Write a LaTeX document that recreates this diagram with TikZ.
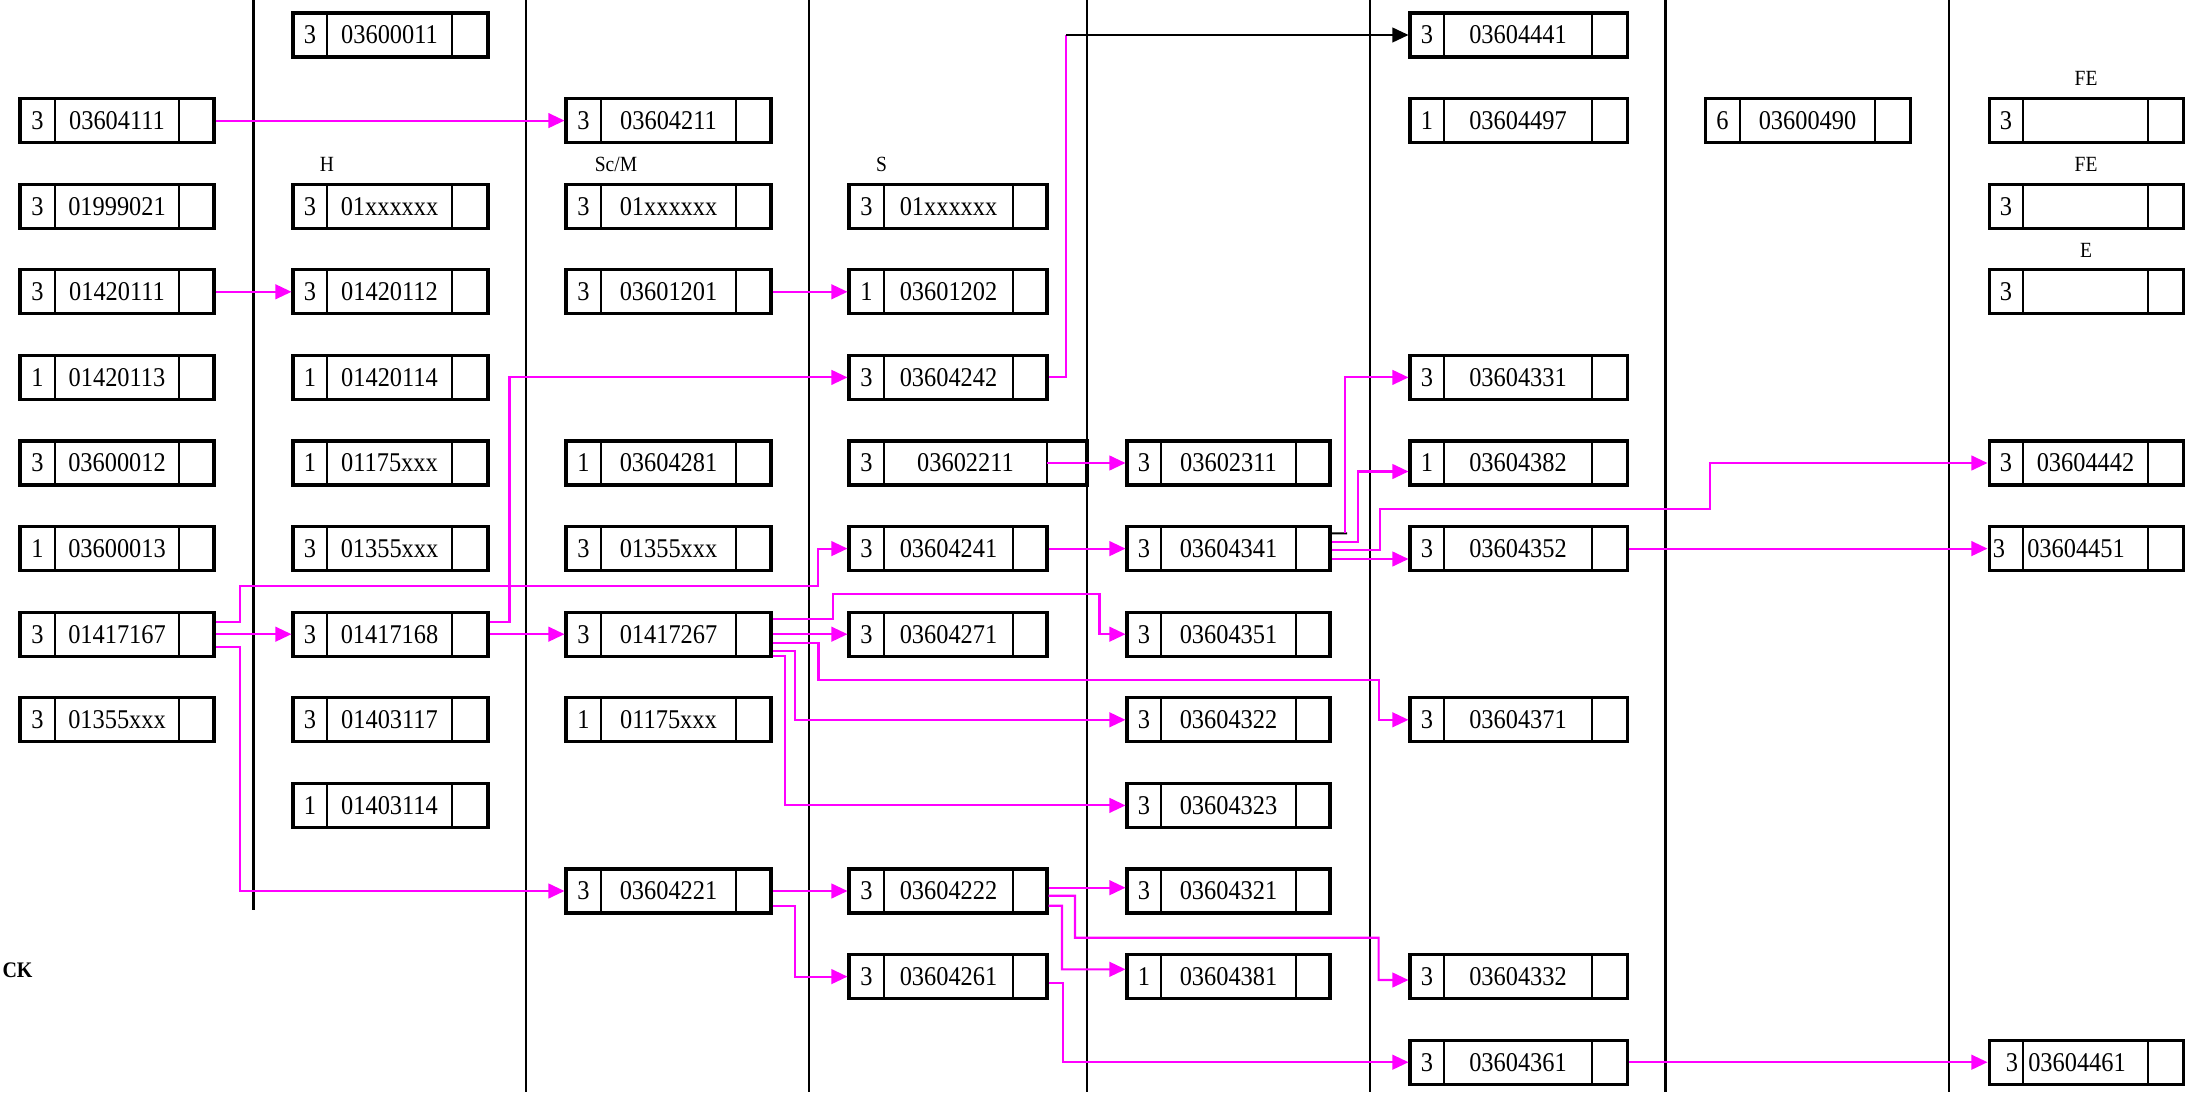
\documentclass[tikz,border=0pt]{standalone}
\usepackage{fontspec}
\setmainfont{Liberation Serif}[FakeStretch=0.9]
\usetikzlibrary{arrows.meta,calc}
\definecolor{pinkline}{RGB}{255,0,255}
\tikzset{
  boxframe/.style={draw, line width=1.1pt, inner sep=0pt, minimum height=15.84pt},
  divline/.style={line width=0.8pt},
  colline/.style={line width=0.8pt},
  numtext/.style={inner sep=0pt, font=\fontsize{9.75}{11}\selectfont},
  codetext/.style={inner sep=0pt, font=\fontsize{9.75}{11}\selectfont},
  labeltext/.style={inner sep=0pt, font=\fontsize{7.8}{9}\selectfont},
  cktext/.style={inner sep=0pt, anchor=west, font=\fontsize{8}{9}\selectfont\bfseries},
  pk/.style={draw=pinkline, line width=0.75pt, -{Triangle[length=5.8pt,width=5.3pt]}},
  pkplain/.style={draw=pinkline, line width=0.75pt},
  bk/.style={draw=black, line width=0.7pt, -{Triangle[length=5.8pt,width=5.3pt]}},
  bkplain/.style={draw=black, line width=0.7pt},
}
% name, xl, d1, d2, xr, y, num, code
\newcommand\bx[8]{%
  \node[boxframe, minimum width={(#5-#2)*0.36pt}] (#1) at ({(#2+#5)/2},#6) {};
  \draw[divline] (#3,#6-22) -- (#3,#6+22) (#4,#6-22) -- (#4,#6+22);
  \coordinate (#1d) at (#4,#6);
  \node[numtext] (#1n) at ({(#2+#3)/2},#6) {#7};
  \node[codetext] (#1c) at ({(#3+#4)/2},#6) {#8};
}
\begin{document}
\begin{tikzpicture}[x=0.36pt,y=-0.36pt]
\useasboundingbox (0,0) rectangle (2206,1092);
% column lines
\draw[colline] (253.6,0) -- (253.6,910);
\draw[colline] (526,0) -- (526,1092);
\draw[colline] (809,0) -- (809,1092);
\draw[colline] (1087,0) -- (1087,1092);
\draw[colline] (1369.7,0) -- (1369.7,1092);
\draw[colline] (1665.5,0) -- (1665.5,1092);
\draw[colline] (1949,0) -- (1949,1092);
% row 1
\bx{b1}{293}{327}{452}{488}{35}{3}{03600011}
\bx{f1}{1410}{1444}{1592}{1627}{35}{3}{03604441}
% row 2
\bx{a2}{20}{55}{179}{214}{120.6}{3}{03604111}
\bx{c2}{566}{601}{736}{771}{120.6}{3}{03604211}
\bx{f2}{1410}{1444}{1592}{1627}{120.6}{1}{03604497}
\bx{g2}{1705}{1740}{1875}{1910}{120.6}{6}{03600490}
\bx{h2}{1989}{2023}{2148}{2183}{120.6}{3}{}
% row 3
\bx{a3}{20}{55}{179}{214}{206.2}{3}{01999021}
\bx{b3}{293}{327}{452}{488}{206.2}{3}{01xxxxxx}
\bx{c3}{566}{601}{736}{771}{206.2}{3}{01xxxxxx}
\bx{d3}{849}{884}{1013}{1047}{206.2}{3}{01xxxxxx}
\bx{h3}{1989}{2023}{2148}{2183}{206.2}{3}{}
% row 4
\bx{a4}{20}{55}{179}{214}{291.8}{3}{01420111}
\bx{b4}{293}{327}{452}{488}{291.8}{3}{01420112}
\bx{c4}{566}{601}{736}{771}{291.8}{3}{03601201}
\bx{d4}{849}{884}{1013}{1047}{291.8}{1}{03601202}
\bx{h4}{1989}{2023}{2148}{2183}{291.8}{3}{}
% row 5
\bx{a5}{20}{55}{179}{214}{377.4}{1}{01420113}
\bx{b5}{293}{327}{452}{488}{377.4}{1}{01420114}
\bx{d5}{849}{884}{1013}{1047}{377.4}{3}{03604242}
\bx{f5}{1410}{1444}{1592}{1627}{377.4}{3}{03604331}
% row 6
\bx{a6}{20}{55}{179}{214}{463}{3}{03600012}
\bx{b6}{293}{327}{452}{488}{463}{1}{01175xxx}
\bx{c6}{566}{601}{736}{771}{463}{1}{03604281}
\bx{d6}{849}{884}{1047}{1087}{463}{3}{03602211}
\bx{e6}{1127}{1161}{1296}{1330}{463}{3}{03602311}
\bx{f6}{1410}{1444}{1592}{1627}{463}{1}{03604382}
\bx{h6}{1989}{2023}{2148}{2183}{463}{3}{03604442}
% row 7
\bx{a7}{20}{55}{179}{214}{548.6}{1}{03600013}
\bx{b7}{293}{327}{452}{488}{548.6}{3}{01355xxx}
\bx{c7}{566}{601}{736}{771}{548.6}{3}{01355xxx}
\bx{d7}{849}{884}{1013}{1047}{548.6}{3}{03604241}
\bx{e7}{1127}{1161}{1296}{1330}{548.6}{3}{03604341}
\bx{f7}{1410}{1444}{1592}{1627}{548.6}{3}{03604352}
\bx{h7}{1989}{2023}{2148}{2183}{548.6}{}{}
\node[numtext] (h7n2) at (1999,548.6) {3};
\node[codetext] (h7c2) at (2076,548.6) {03604451};
% row 8
\bx{a8}{20}{55}{179}{214}{634.2}{3}{01417167}
\bx{b8}{293}{327}{452}{488}{634.2}{3}{01417168}
\bx{c8}{566}{601}{736}{771}{634.2}{3}{01417267}
\bx{d8}{849}{884}{1013}{1047}{634.2}{3}{03604271}
\bx{e8}{1127}{1161}{1296}{1330}{634.2}{3}{03604351}
% row 9
\bx{a9}{20}{55}{179}{214}{719.8}{3}{01355xxx}
\bx{b9}{293}{327}{452}{488}{719.8}{3}{01403117}
\bx{c9}{566}{601}{736}{771}{719.8}{1}{01175xxx}
\bx{e9}{1127}{1161}{1296}{1330}{719.8}{3}{03604322}
\bx{f9}{1410}{1444}{1592}{1627}{719.8}{3}{03604371}
% row 10
\bx{b10}{293}{327}{452}{488}{805.4}{1}{01403114}
\bx{e10}{1127}{1161}{1296}{1330}{805.4}{3}{03604323}
% row 11
\bx{c11}{566}{601}{736}{771}{891}{3}{03604221}
\bx{d11}{849}{884}{1013}{1047}{891}{3}{03604222}
\bx{e11}{1127}{1161}{1296}{1330}{891}{3}{03604321}
% row 12
\bx{d12}{849}{884}{1013}{1047}{976.6}{3}{03604261}
\bx{e12}{1127}{1161}{1296}{1330}{976.6}{1}{03604381}
\bx{f12}{1410}{1444}{1592}{1627}{976.6}{3}{03604332}
% row 13
\bx{f13}{1410}{1444}{1592}{1627}{1062.2}{3}{03604361}
\bx{h13}{1989}{2023}{2148}{2183}{1062.2}{}{}
\node[numtext] (h13n2) at (2012,1062.2) {3};
\node[codetext] (h13c2) at (2077,1062.2) {03604461};
% labels
\node[labeltext] (lH) at (327,164) {H};
\node[labeltext] (lScM) at (616,164) {Sc/M};
\node[labeltext] (lS) at (881.5,164) {S};
\node[labeltext] (lFEa) at (2086,78) {FE};
\node[labeltext] (lFEb) at (2086,164) {FE};
\node[labeltext] (lE) at (2086,250) {E};
\node[cktext] (lCK) at (2,970.7) {CK};
% connectors
\draw[pk] (a2.east) -- (c2.west);
\draw[pk] (a4.east) -- (b4.west);
\draw[pk] (c4.east) -- (d4.west);
\draw[pk] ($(b8.east)+(0,-12.5)$) -| (509.5,377.4) -- (d5.west);
\draw[pk] (a8.east) -- (b8.west);
\draw[pk] (b8.east) -- (c8.west);
\draw[pk] ($(a8.east)+(0,-12.5)$) -| (240,586) -| (818,548.6) -- (d7.west);
\draw[pk] ($(a8.east)+(0,13)$) -| (240,891) -- (c11.west);
\coordinate (k1) at (1066,35);
\draw[pkplain] (d5.east) -| (k1);
\draw[bk] (k1) -- (f1.west);
\draw[pk] ($(c8.east)+(0,-15)$) -| (833,594) -| (1099.5,634.2) -- (e8.west);
\draw[pk] (c8.east) -- (d8.west);
\draw[pk] ($(c8.east)+(0,8.5)$) -| (818.5,680) -| (1378.6,719.8) -- (f9.west);
\draw[pk] ($(c8.east)+(0,16.5)$) -| (795,719.8) -- (e9.west);
\draw[pk] ($(c8.east)+(0,21.5)$) -| (785,805.4) -- (e10.west);
\draw[pk] (d6d) -- (e6.west);
\draw[pk] (d7.east) -- (e7.west);
\coordinate (k2) at (1345,533.3);
\draw[bkplain] ($(e7.east)+(0,-15.3)$) -- ($(k2)+(2,0)$);
\draw[pk] (k2) |- (f5.west);
\draw[pk] ($(e7.east)+(0,-7)$) -| (1358.3,471.5) -- ($(f6.west)+(0,8.5)$);
\draw[pk] ($(e7.east)+(0,1.4)$) -| (1380,509) -| (1710,463) -- (h6.west);
\draw[pk] ($(e7.east)+(0,10.4)$) -- ($(f7.west)+(0,10.4)$);
\draw[pk] (f7.east) -- (h7.west);
\draw[pk] (c11.east) -- (d11.west);
\draw[pk] ($(c11.east)+(0,14.7)$) -| (795.4,976.6) -- (d12.west);
\draw[pk] ($(d11.east)+(0,-3.3)$) -- ($(e11.west)+(0,-3.3)$);
\draw[pk] ($(d11.east)+(0,4.7)$) -| (1075,937.7) -| (1378.6,980) -- ($(f12.west)+(0,3.4)$);
\draw[pk] ($(d11.east)+(0,14.7)$) -| (1062,969.3) -- ($(e12.west)+(0,-7.3)$);
\draw[pk] ($(d12.east)+(0,6)$) -| (1063,1062.2) -- (f13.west);
\draw[pk] (f13.east) -- (h13.west);
\end{tikzpicture}
\end{document}
